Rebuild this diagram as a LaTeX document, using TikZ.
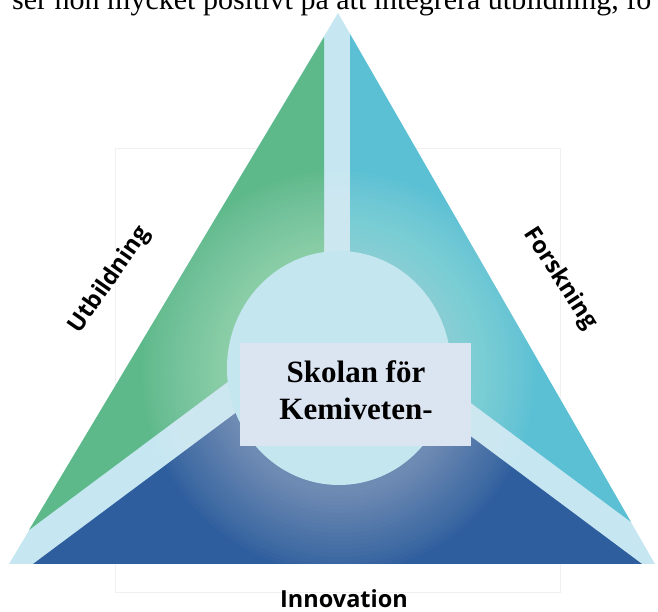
\documentclass[tikz,border=0pt]{standalone}
\usepackage{fontspec}
\setmainfont{Liberation Serif}
\newfontfamily\sidefont{Open Sans}
\usepackage{tikz}

\definecolor{bandblue}{HTML}{C6E7F1}
\definecolor{centreblue}{HTML}{C4E6EF}
\definecolor{greenpart}{HTML}{5EB98A}
\definecolor{cyanpart}{HTML}{5BC0D4}
\definecolor{bluepart}{HTML}{2F5E9E}
\definecolor{boxblue}{HTML}{DBE4F1}

\begin{document}
\begin{tikzpicture}[
		x=1pt, y=1pt,
		sidetext/.style={font=\sidefont\bfseries\fontsize{23.5}{28}\selectfont, inner sep=0pt},
		schooltext/.style={anchor=base, font=\bfseries\fontsize{31}{37}\selectfont}
	]
  \useasboundingbox (0,0) rectangle (658,612);
  \clip (0,0) rectangle (658,612);
  \node (topline) [anchor=base west, inner sep=0pt, font=\fontsize{30}{36}\selectfont] at (12, 602) {ser hon mycket positivt på att integrera utbildning, fo};
  \draw[black!6] (115,20) rectangle (560,464);
  % triangle, bands and the three parts
  \fill[bandblue] (338,599) -- (9,48) -- (655,48) -- cycle;
  \fill[greenpart] (324,575) -- (29,82) -- (324,302) -- cycle;
  \fill[cyanpart] (350,578) -- (631,90) -- (350,299) -- cycle;
  \fill[bluepart] (33,48) -- (642,48) -- (337.5,275) -- cycle;
  % glow round the centre
  \begin{scope}
    \clip (338,599) -- (9,48) -- (655,48) -- cycle;
    \foreach \r in {116,120,...,196}
      \fill[white, opacity=0.02] (339,240) ellipse ({\r} and {\r+5});
  \end{scope}
  \fill[centreblue] (339,244) ellipse (112 and 117);
  \node (box) [fill=boxblue, minimum width=231, minimum height=103, inner sep=0pt] at (355.5, 217.5) {};
  \node (skolan) [schooltext] at (356, 229) {Skolan för};
  \node (kemi) [schooltext] at (356, 192) {Kemiveten-};
  \node (utb) [sidetext, rotate=55] at (110, 332) {Utbildning};
  \node (forsk) [sidetext, rotate=-57] at (560, 333) {Forskning};
  \node (innov) [sidetext] at (344, 13) {Innovation};
\end{tikzpicture}
\end{document}
